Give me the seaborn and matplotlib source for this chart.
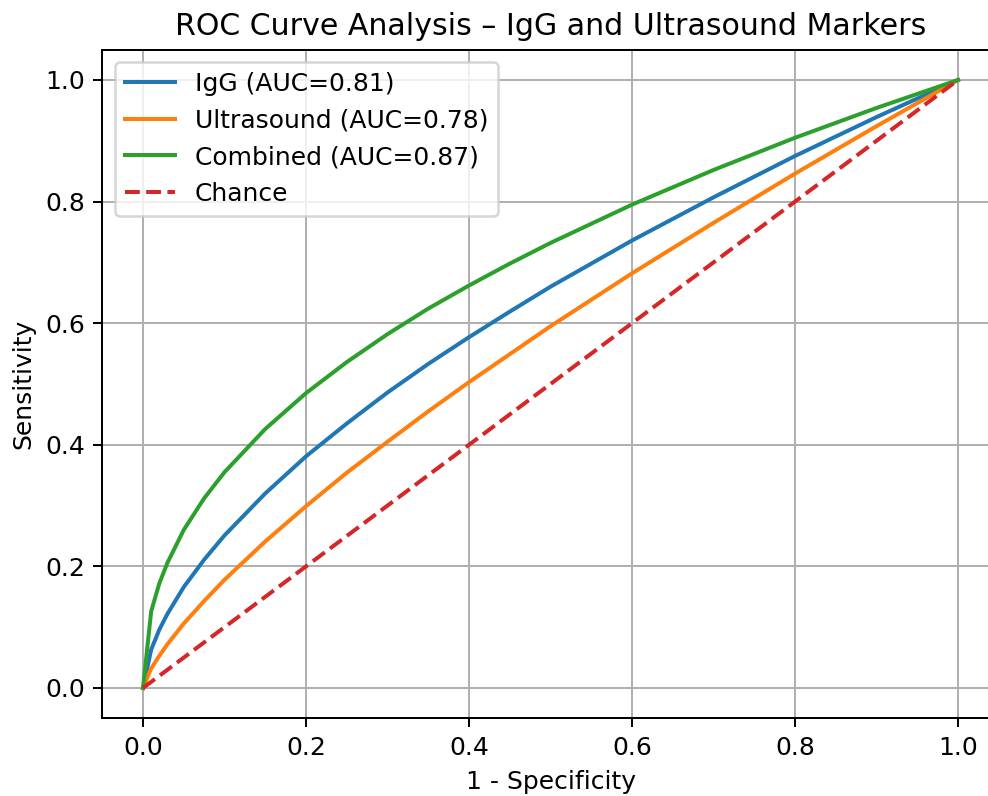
import matplotlib
matplotlib.use("Agg")
import matplotlib.pyplot as plt
import seaborn as sns
import pandas as pd

matplotlib.rcdefaults()

# False positive rate (1 - specificity)
fpr = [0.0, 0.01, 0.02, 0.03, 0.05, 0.075, 0.1, 0.15, 0.2, 0.25, 0.3, 0.35,
       0.4, 0.45, 0.5, 0.6, 0.7, 0.8, 0.9, 1.0]
# Sensitivity
tpr_igg = [0.0, 0.063, 0.096, 0.122, 0.166, 0.211, 0.251, 0.320, 0.381, 0.435,
           0.486, 0.533, 0.577, 0.619, 0.660, 0.736, 0.807, 0.875, 0.939, 1.0]
tpr_us = [0.0, 0.032, 0.053, 0.072, 0.106, 0.143, 0.178, 0.241, 0.299, 0.354,
          0.405, 0.455, 0.503, 0.549, 0.595, 0.682, 0.765, 0.846, 0.924, 1.0]
tpr_comb = [0.0, 0.126, 0.172, 0.206, 0.260, 0.312, 0.355, 0.426, 0.485, 0.536,
            0.582, 0.624, 0.662, 0.698, 0.732, 0.795, 0.852, 0.905, 0.954, 1.0]
chance_x = [0.0, 1.0]
chance_y = [0.0, 1.0]

labels = ["IgG (AUC=0.81)", "Ultrasound (AUC=0.78)", "Combined (AUC=0.87)", "Chance"]
colors = ["#1f77b4", "#ff7f0e", "#2ca02c", "#d62728"]

DPI = 180
LW = 1.6
fig = plt.figure(figsize=(988 / DPI, 796 / DPI), dpi=DPI)
ax = fig.add_axes([0.1035, 0.0975, 0.9074, 0.8402])

for ys, lab, col in zip([tpr_igg, tpr_us, tpr_comb], labels[:3], colors[:3]):
    df = pd.DataFrame({"x": fpr, "y": ys})
    sns.lineplot(data=df, x="x", y="y", ax=ax, color=col, linewidth=LW,
                 label=lab, sort=False, estimator=None)
dfc = pd.DataFrame({"x": chance_x, "y": chance_y})
sns.lineplot(data=dfc, x="x", y="y", ax=ax, color=colors[3], linewidth=LW,
             linestyle="--", label=labels[3], sort=False, estimator=None)

for s in ax.spines.values():
    s.set_visible(True)
ax.set_xlim(-0.05, 1.05)
ax.set_ylim(-0.05, 1.05)
ax.set_xticks([0.0, 0.2, 0.4, 0.6, 0.8, 1.0])
ax.set_yticks([0.0, 0.2, 0.4, 0.6, 0.8, 1.0])
ax.set_xlabel("1 - Specificity", fontsize=10)
ax.set_ylabel("Sensitivity", fontsize=10)
ax.set_title("ROC Curve Analysis – IgG and Ultrasound Markers", fontsize=12)
ax.tick_params(labelsize=10)
ax.grid(True)
ax.legend(loc="upper left", fontsize=10)

fig.savefig("out.png", dpi=DPI)
